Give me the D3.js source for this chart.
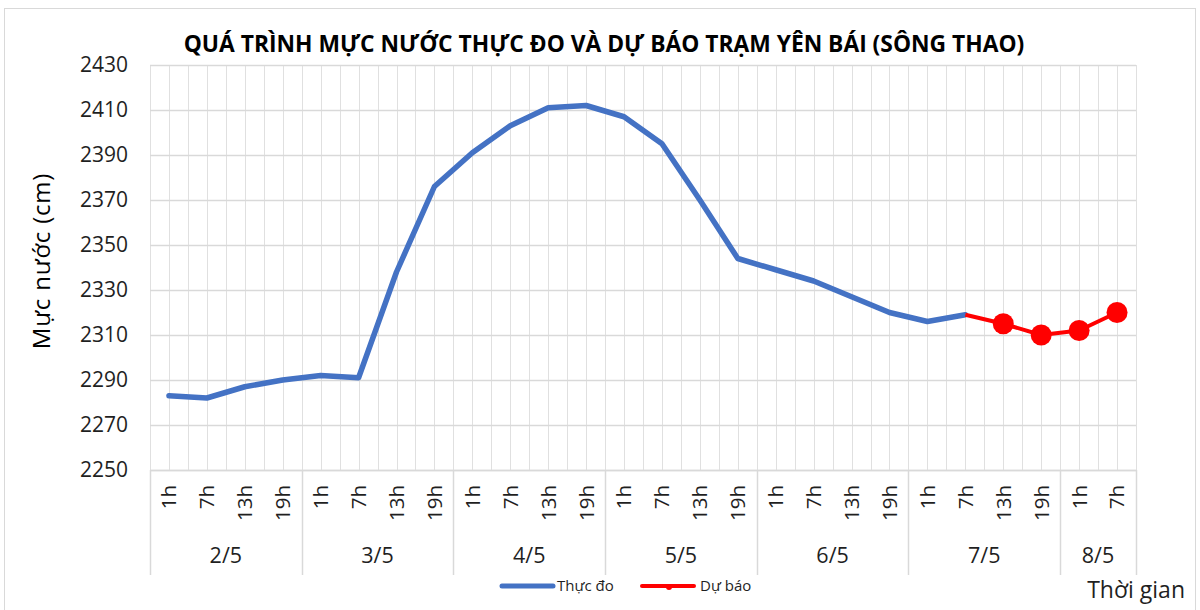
<!DOCTYPE html>
<html>
<head>
<meta charset="utf-8">
<script src="https://cdn.jsdelivr.net/npm/d3@7"></script>
<style>
    body { margin: 0; background: #fff; }
    svg text { font-family: "Open Sans", "Noto Sans", sans-serif; fill: #1f1f1f; }
</style>
</head>
<body>
<div id="chart"></div>
<script>
// Data
const days = ["2/5", "3/5", "4/5", "5/5", "6/5", "7/5", "8/5"];
const dayHours = [
    ["1h", "7h", "13h", "19h"],
    ["1h", "7h", "13h", "19h"],
    ["1h", "7h", "13h", "19h"],
    ["1h", "7h", "13h", "19h"],
    ["1h", "7h", "13h", "19h"],
    ["1h", "7h", "13h", "19h"],
    ["1h", "7h"]
];
const observed = [2283, 2282, 2287, 2290, 2292, 2291, 2338, 2376,
    2391, 2403, 2411, 2412, 2407, 2395, 2370, 2344,
    2339, 2334, 2327, 2320, 2316, 2319];
const forecast = [null, null, null, null, null, null, null, null,
    null, null, null, null, null, null, null, null,
    null, null, null, null, null, 2319, 2315, 2310, 2312, 2320];
const forecastMarked = [false, false, false, false, false, false, false, false,
    false, false, false, false, false, false, false, false,
    false, false, false, false, false, false, true, true, true, true];
const yTicks = [2250, 2270, 2290, 2310, 2330, 2350, 2370, 2390, 2410, 2430];

const hourLabels = dayHours.flat();
const keys = hourLabels.map((h, i) => i);

const W = 1200, H = 610;
const margin = { LEFT: 150, RIGHT: 64, TOP: 65, BOTTOM: 140 };
const width = W - margin.LEFT - margin.RIGHT;
const height = H - margin.TOP - margin.BOTTOM;

const svg = d3.select("#chart").append("svg")
    .attr("width", W)
    .attr("height", H);

// outer chart border
svg.append("rect")
    .attr("x", 4.5).attr("y", 8.5)
    .attr("width", 1191).attr("height", 620)
    .attr("fill", "none")
    .attr("stroke", "#d9d9d9");

svg.append("text")
    .attr("x", 604)
    .attr("y", 52)
    .attr("text-anchor", "middle")
    .attr("font-size", "22.8px")
    .attr("font-weight", "bold")
    .style("fill", "#000")
    .text("QUÁ TRÌNH MỰC NƯỚC THỰC ĐO VÀ DỰ BÁO TRẠM YÊN BÁI (SÔNG THAO)");

const g = svg.append("g")
    .attr("transform", `translate(${margin.LEFT}, ${margin.TOP})`);

const x = d3.scaleBand()
    .domain(keys)
    .range([0, width])
    .padding(0);
const bw = x.bandwidth();
const cx = i => x(i) + bw / 2;

const y = d3.scaleLinear()
    .domain([2250, 2430])
    .range([height, 0]);

// vertical gridlines: band edges and band centres
const vLines = [];
keys.forEach(i => { vLines.push(x(i)); vLines.push(cx(i)); });
vLines.push(width);
g.selectAll(".vgrid")
    .data(vLines)
    .enter().append("line")
    .attr("class", "vgrid")
    .attr("x1", d => Math.round(d) + 0.5)
    .attr("x2", d => Math.round(d) + 0.5)
    .attr("y1", 0)
    .attr("y2", height)
    .attr("stroke", "#e0e0e0")
    .attr("stroke-width", 1);

// Y axis (gridlines + labels)
const yAxisCall = d3.axisLeft(y)
    .tickValues(yTicks)
    .tickSize(-width)
    .tickPadding(22)
    .tickFormat(d => d);
g.append("g")
    .attr("class", "y axis")
    .call(yAxisCall)
    .call(s => s.select(".domain").remove())
    .call(s => s.selectAll("line").attr("stroke", "#d9d9d9").attr("stroke-width", 1.3))
    .call(s => s.selectAll("text")
        .attr("font-size", "21px")
        .style("font-family", "'Open Sans', sans-serif")
        .style("fill", "#1f1f1f"));

// X axis: hour labels, rotated
const xAxisCall = d3.axisBottom(x)
    .tickSize(0)
    .tickFormat(i => hourLabels[i]);
g.append("g")
    .attr("class", "x axis")
    .attr("transform", `translate(0, ${height})`)
    .call(xAxisCall)
    .call(s => s.select(".domain").attr("stroke", "#d9d9d9").attr("stroke-width", 1.3))
    .call(s => s.selectAll("text")
        .attr("font-size", "20.5px")
        .style("font-family", "'Open Sans', sans-serif")
        .style("fill", "#1f1f1f")
        .attr("text-anchor", "end")
        .attr("transform", "rotate(-90)")
        .attr("x", -15)
        .attr("y", 0)
        .attr("dy", "0.36em"));

// day groups
const groups = [];
let start = 0;
days.forEach((d, k) => {
    groups.push({ day: d, first: start, last: start + dayHours[k].length - 1 });
    start += dayHours[k].length;
});

const sep = [0].concat(groups.map(gr => x(gr.last) + bw));
g.selectAll(".sep")
    .data(sep)
    .enter().append("line")
    .attr("class", "sep")
    .attr("x1", d => Math.round(d) + 0.5)
    .attr("x2", d => Math.round(d) + 0.5)
    .attr("y1", height)
    .attr("y2", height + 105)
    .attr("stroke", "#d9d9d9")
    .attr("stroke-width", 1.5);

g.selectAll(".day")
    .data(groups)
    .enter().append("text")
    .attr("class", "day")
    .attr("x", gr => (x(gr.first) + x(gr.last) + bw) / 2)
    .attr("y", height + 93)
    .attr("text-anchor", "middle")
    .attr("font-size", "21.5px")
    .text(gr => gr.day);

// lines
const obsLine = d3.line()
    .x((d, i) => cx(i))
    .y(d => y(d));

g.append("path")
    .datum(observed)
    .attr("fill", "none")
    .attr("stroke", "#4472C4")
    .attr("stroke-width", 5.5)
    .attr("stroke-linejoin", "round")
    .attr("stroke-linecap", "round")
    .attr("d", obsLine);

const fcLine = d3.line()
    .defined(d => d !== null)
    .x((d, i) => cx(i))
    .y(d => y(d));

g.append("path")
    .datum(forecast)
    .attr("fill", "none")
    .attr("stroke", "#FF0000")
    .attr("stroke-width", 4)
    .attr("stroke-linejoin", "round")
    .attr("d", fcLine);

g.selectAll(".fc-dot")
    .data(forecast.map((v, i) => ({ v, i })).filter(d => d.v !== null && forecastMarked[d.i]))
    .enter().append("circle")
    .attr("class", "fc-dot")
    .attr("cx", d => cx(d.i))
    .attr("cy", d => y(d.v))
    .attr("r", 10.5)
    .attr("fill", "#FF0000");

// Y label
svg.append("text")
    .attr("x", -261)
    .attr("y", 50)
    .attr("transform", "rotate(-90)")
    .attr("text-anchor", "middle")
    .attr("font-size", "24px")
    .attr("letter-spacing", "0.8px")
    .style("fill", "#000")
    .text("Mực nước (cm)");

svg.append("text")
    .attr("x", 1185)
    .attr("y", 598)
    .attr("text-anchor", "end")
    .attr("font-size", "23px")
    .text("Thời gian");

// legend
const legend = svg.append("g");
legend.append("line")
    .attr("x1", 502).attr("x2", 553)
    .attr("y1", 586).attr("y2", 586)
    .attr("stroke", "#4472C4")
    .attr("stroke-width", 5)
    .attr("stroke-linecap", "round");
legend.append("text")
    .attr("x", 557).attr("y", 591)
    .attr("font-size", "15px")
    .text("Thực đo");
legend.append("line")
    .attr("x1", 642).attr("x2", 694)
    .attr("y1", 586).attr("y2", 586)
    .attr("stroke", "#FF0000")
    .attr("stroke-width", 4)
    .attr("stroke-linecap", "round");
legend.append("circle")
    .attr("cx", 669).attr("cy", 587)
    .attr("r", 3)
    .attr("fill", "#FF0000");
legend.append("text")
    .attr("x", 700).attr("y", 591)
    .attr("font-size", "15px")
    .text("Dự báo");
</script>
</body>
</html>
